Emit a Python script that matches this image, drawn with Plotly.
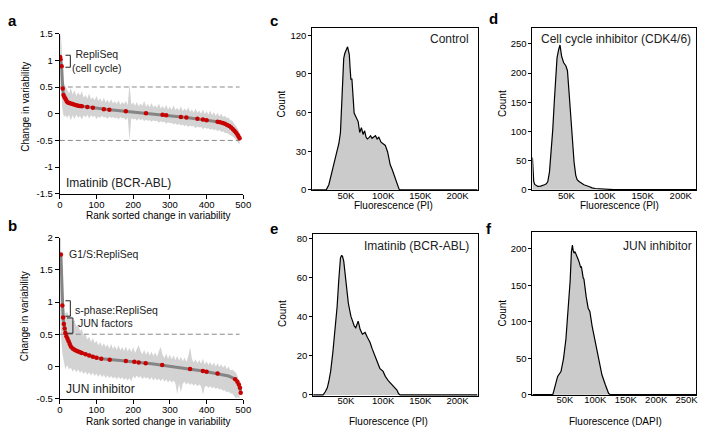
import plotly.graph_objects as go

# ---------------- DATA ----------------
# Panel a: Imatinib (BCR-ABL) rank-sorted change in variability
mean_a_rank = [1, 2, 5, 8, 10, 13, 16, 19, 22, 26, 30, 35, 40, 45, 50, 55, 60,
               75, 90, 105, 120, 135, 150, 165, 180, 195, 205,
               220, 235, 250, 265, 280, 290, 300,
               315, 330, 345, 360, 375, 390, 400,
               410, 420, 430, 437, 444, 450, 456,
               462, 467, 472, 476, 480, 484, 487, 490]
mean_a_val = [1.06, 1.02, 0.89, 0.47, 0.35, 0.31, 0.27, 0.23, 0.21, 0.20, 0.19, 0.18, 0.17, 0.16, 0.15, 0.145, 0.14,
              0.125, 0.11, 0.095, 0.085, 0.075, 0.065, 0.055, 0.045, 0.035, 0.03,
              0.02, 0.01, 0.005, -0.005, -0.02, -0.03, -0.04,
              -0.05, -0.06, -0.07, -0.085, -0.095, -0.11, -0.12,
              -0.13, -0.14, -0.15, -0.16, -0.175, -0.19, -0.21,
              -0.23, -0.26, -0.29, -0.32, -0.35, -0.39, -0.42, -0.46]
red_a = [1, 1, 1, 1, 1, 1, 1, 1, 1, 1, 1, 1, 1, 1, 1, 1, 1,
         1, 1, 0, 1, 1, 0, 0, 1, 0, 0,
         0, 1, 0, 0, 1, 1, 0,
         0, 1, 1, 0, 1, 1, 1,
         0, 0, 1, 1, 1, 1, 1,
         1, 1, 1, 1, 1, 1, 1, 1]

band_rank = [1, 3, 5, 7, 9, 11, 13, 15] + list(range(20, 491, 5))
hi_a = [1.50, 1.45, 1.25, 0.75, 0.62, 0.58, 0.55, 0.52,
        0.45, 0.38, 0.48, 0.36, 0.44, 0.33, 0.40, 0.34, 0.42, 0.30,
        0.35, 0.28, 0.38, 0.27, 0.31, 0.25, 0.33, 0.24, 0.29, 0.22,
        0.30, 0.21, 0.26, 0.20, 0.27, 0.19, 0.24, 0.18, 0.25, 0.17,
        0.22, 0.18, 0.24, 0.16, 0.55, 0.17, 0.21, 0.15, 0.22, 0.14,
        0.19, 0.15, 0.24, 0.13, 0.18, 0.12, 0.20, 0.12, 0.16, 0.11,
        0.19, 0.10, 0.15, 0.09, 0.17, 0.08, 0.13, 0.07, 0.16, 0.07,
        0.11, 0.06, 0.14, 0.05, 0.10, 0.05, 0.12, 0.03, 0.08, 0.02,
        0.10, 0.02, 0.06, 0.00, 0.08, -0.01, 0.05, -0.02, 0.06, -0.03,
        0.03, -0.04, 0.02, -0.05, 0.00, -0.06, -0.04, -0.08, -0.07, -0.12,
        -0.13, -0.18, -0.22, -0.28, -0.36]
lo_a = [0.55, 0.50, 0.35, 0.10, 0.00, -0.05, -0.05, -0.03,
        -0.08, -0.02, -0.12, -0.03, -0.10, -0.02, -0.08, -0.04, -0.11, -0.03,
        -0.07, -0.02, -0.09, -0.03, -0.06, -0.04, -0.10, -0.05, -0.08, -0.04,
        -0.07, -0.06, -0.10, -0.05, -0.08, -0.06, -0.09, -0.07, -0.11, -0.06,
        -0.09, -0.08, -0.12, -0.07, -0.49, -0.08, -0.11, -0.09, -0.13, -0.09,
        -0.12, -0.10, -0.14, -0.11, -0.13, -0.12, -0.15, -0.12, -0.14, -0.13,
        -0.17, -0.14, -0.16, -0.15, -0.19, -0.16, -0.18, -0.17, -0.20, -0.18,
        -0.21, -0.19, -0.22, -0.20, -0.23, -0.21, -0.25, -0.22, -0.24, -0.23,
        -0.27, -0.24, -0.26, -0.25, -0.29, -0.26, -0.28, -0.27, -0.30, -0.28,
        -0.31, -0.29, -0.33, -0.30, -0.34, -0.33, -0.36, -0.36, -0.38, -0.40,
        -0.42, -0.45, -0.48, -0.53, -0.58]

# Panel b: JUN inhibitor
mean_b_rank = [3, 7, 9, 11, 13, 15, 18, 21, 24, 27,
               30, 35, 40, 45, 50, 55, 60, 70, 80, 90,
               100, 113, 125, 136, 150, 165, 180, 192, 203, 215,
               234, 250, 265, 279, 295, 310, 325, 340, 355, 370,
               380, 390, 400, 415, 430, 440, 450, 460, 470, 478,
               484, 488, 491, 493]
mean_b_val = [1.74, 0.945, 0.76, 0.66, 0.59, 0.52, 0.47, 0.43, 0.39, 0.35,
              0.31, 0.28, 0.26, 0.245, 0.23, 0.22, 0.21, 0.19, 0.17, 0.15,
              0.135, 0.12, 0.11, 0.105, 0.098, 0.09, 0.083, 0.078, 0.073, 0.062,
              0.05, 0.04, 0.03, 0.02, 0.008, -0.003, -0.015, -0.028, -0.042, -0.055,
              -0.063, -0.072, -0.082, -0.095, -0.11, -0.12, -0.135, -0.15, -0.175, -0.2,
              -0.24, -0.28, -0.33, -0.41]
red_b = [1, 1, 1, 1, 1, 1, 1, 1, 1, 1,
         1, 1, 1, 1, 1, 1, 1, 1, 1, 1,
         1, 1, 0, 1, 0, 0, 1, 0, 1, 1,
         1, 0, 0, 1, 0, 0, 0, 0, 1, 0,
         0, 1, 1, 0, 1, 0, 0, 0, 0, 1,
         1, 1, 1, 1]
hi_b = [2.00, 2.00, 1.35, 1.05, 0.98, 0.92, 0.88, 0.82,
        0.85, 0.78, 0.80, 0.70, 0.72, 0.62, 0.65, 0.55, 0.58, 0.48,
        0.50, 0.42, 0.46, 0.38, 0.44, 0.36, 0.40, 0.33, 0.38, 0.31,
        0.36, 0.30, 0.34, 0.28, 0.35, 0.27, 0.32, 0.26, 0.33, 0.25,
        0.30, 0.24, 0.31, 0.23, 0.29, 0.22, 0.30, 0.21, 0.27, 0.33,
        0.24, 0.19, 0.26, 0.18, 0.24, 0.17, 0.23, 0.16, 0.22, 0.15,
        0.24, 0.30, 0.18, 0.13, 0.20, 0.12, 0.18, 0.11, 0.17, 0.10,
        0.16, 0.09, 0.15, 0.08, 0.14, 0.07, 0.15, 0.30, 0.12, 0.06,
        0.11, 0.05, 0.10, 0.04, 0.12, 0.03, 0.08, 0.02, 0.07, 0.01,
        0.06, 0.00, 0.05, -0.01, 0.03, -0.02, 0.02, -0.04, 0.00, -0.06,
        -0.05, -0.08, -0.10, -0.16, -0.25]
lo_b = [0.70, 0.60, 0.35, 0.20, 0.10, 0.05, 0.00, -0.05,
        0.02, -0.05, -0.02, -0.08, -0.04, -0.09, -0.05, -0.10, -0.07, -0.12,
        -0.08, -0.13, -0.09, -0.14, -0.10, -0.15, -0.11, -0.16, -0.12, -0.17,
        -0.13, -0.18, -0.14, -0.18, -0.15, -0.19, -0.16, -0.20, -0.16, -0.20,
        -0.17, -0.21, -0.18, -0.22, -0.18, -0.23,
        -0.15, -0.19, -0.14, -0.18, -0.15, -0.20, -0.16, -0.19, -0.17, -0.21,
        -0.17, -0.22, -0.18, -0.22, -0.19, -0.23, -0.19, -0.24, -0.20, -0.25,
        -0.21, -0.25, -0.22, -0.26, -0.43, -0.27, -0.40, -0.27, -0.24, -0.28,
        -0.25, -0.29, -0.26, -0.30, -0.27, -0.31, -0.28, -0.31, -0.44, -0.32,
        -0.30, -0.33, -0.31, -0.34, -0.32, -0.35, -0.33, -0.36, -0.35, -0.38,
        -0.37, -0.40, -0.39, -0.42, -0.42, -0.45, -0.50, -0.48, -0.50]

assert len(mean_a_rank) == len(mean_a_val) == len(red_a)
assert len(mean_b_rank) == len(mean_b_val) == len(red_b)
assert len(band_rank) == len(hi_a) == len(lo_a) == len(hi_b) == len(lo_b)

thresh_a = [0.5, -0.5]
thresh_b = [0.5]

# Histograms (fluorescence in thousands, counts)
c_x = [4.6, 20, 23.5, 27, 30, 32.4, 35, 38.1, 40.5, 42.6, 44, 45.6, 47, 48.5, 50, 51, 52.2, 53.3, 54.5,
       55.5, 56.6, 58, 59, 61, 63.2, 65, 66.4, 68.5, 70.8, 73, 75.1, 77, 78.7, 81, 83.1, 85, 86.6, 88,
       89.7, 91.9, 94.2, 97.2, 100, 102.9, 106, 108, 109.5, 112, 114, 117.5, 121.4, 123, 226.9]
c_y = [0, 0, 0, 4, 10, 16.8, 23, 29.4, 36, 44.5, 60, 79.8, 102, 106, 108.7, 109, 111, 108, 105,
       95, 86, 86, 75, 59.6, 57, 55, 53, 44.5, 48.3, 43, 45.8, 41, 39.5, 40.5, 42, 40, 40.8, 41.5,
       42, 39.5, 40.8, 37, 36, 34.5, 29.4, 24, 19.4, 16, 13, 6.8, 0.5, 0, 0]

d_x = [5.3, 6.1, 7, 8.3, 10, 12.5, 16, 19, 21.2, 23.5, 25.5, 27.7, 29.9, 32, 34.1, 36.3, 37.6, 39.7,
       41.5, 43.6, 46.2, 49.3, 51.3, 53.5, 55.7, 57.8, 60, 62.2, 64, 66.5, 72.9, 79.4, 83.7, 88,
       96.6, 105, 112, 220.3]
d_y = [55, 25, 14, 9, 7, 5.5, 6, 7, 8.3, 10, 13.9, 30.6, 64, 103, 153, 204, 226, 240,
       248, 229, 218, 212, 204, 165, 120, 81, 47, 24.6, 17, 13.9, 8.3, 5.5, 3, 2,
       1, 0.3, 0, 0]

e_x = [5.9, 17, 19.2, 22, 24.9, 27, 29.4, 32.4, 35.5, 38.1, 40.3, 42.6, 44.3, 45.5, 47, 50, 53.2,
       56.6, 59, 61.1, 63.2, 65, 66.4, 67.5, 69, 72.1, 74, 75.7, 78.7, 82.3, 85.3, 88.4, 92, 95.5,
       99.9, 102.9, 107.4, 111.8, 116.1, 118.5, 120.6, 122.8, 226.9]
e_y = [0, 0, 0, 1.5, 3.6, 7, 12, 21.9, 33.5, 45, 58.4, 70, 71.3, 70.5, 68.3, 58.4, 46.8,
       40.2, 37, 35.2, 34.3, 36, 37.7, 36, 33.5, 31, 31.5, 31.9, 29.4, 26.9, 23.5, 20.3, 16.9, 13.6,
       12, 9.5, 7, 5.3, 3.6, 2.5, 0.7, 0, 0]

f_x = [-3.4, 28, 30, 32, 34.3, 38, 43.5, 47.7, 51.6, 55.3, 58.6, 60.7, 62.3, 63.5, 65, 66.5, 68.8,
       70.5, 72, 74, 75.9, 77, 78.5, 80, 81.2, 83, 85, 88.2, 91, 94.7, 99, 102.8, 106.6, 110.8,
       116.3, 121.7, 124.4, 265.7]
f_y = [0, 0, 0, 6, 13.9, 25, 31.7, 49.4, 76, 112, 156, 196, 205, 198, 194, 196, 192,
       188, 185, 180, 174, 176, 163, 160, 158.6, 145, 134, 118.5, 114, 94, 76, 58.4, 40.6, 27.3,
       13.9, 1.9, 0, 0]

rank_ticks = [0, 100, 200, 300, 400, 500]
ya_ticks = [-1.5, -1, -0.5, 0, 0.5, 1, 1.5]
yb_ticks = [-0.5, 0, 0.5, 1, 1.5, 2]
fl_ticks = [50, 100, 150, 200]
fl_ticks_f = [50, 100, 150, 200, 250]

# ---------------- FIGURE ----------------
W, H = 715, 437
FONT = "Liberation Sans, Arial, Helvetica, sans-serif"
BAND = "#d3d3d3"
MEANC = "#858585"
RED = "#c80000"
FILLG = "#cbcbcb"


def px(x, y):
    return x / W, 1 - y / H


def tlab(v):
    return "%g" % v


fig = go.Figure()


def rank_panel(xa, ya, mrank, mval, red, hi, lo, thr):
    fig.add_trace(go.Scatter(x=band_rank + band_rank[::-1], y=hi + lo[::-1], fill="toself",
                             fillcolor=BAND, line=dict(width=0), mode="lines",
                             xaxis=xa, yaxis=ya, hoverinfo="skip"))
    for t in thr:
        fig.add_trace(go.Scatter(x=[0, 490], y=[t, t], mode="lines",
                                 line=dict(color="#8a8a8a", width=1, dash="5px,3px"),
                                 xaxis=xa, yaxis=ya))
    fig.add_trace(go.Scatter(x=mrank, y=mval, mode="lines", line=dict(color=MEANC, width=3),
                             xaxis=xa, yaxis=ya))
    rx = [r for r, f in zip(mrank, red) if f]
    ry = [v for v, f in zip(mval, red) if f]
    fig.add_trace(go.Scatter(x=rx, y=ry, mode="markers",
                             marker=dict(color=RED, size=4.5, line=dict(width=0)),
                             xaxis=xa, yaxis=ya))


def hist_panel(xa, ya, hx, hy):
    fig.add_trace(go.Scatter(x=hx, y=hy, mode="lines", fill="tozeroy", fillcolor=FILLG,
                             line=dict(color="black", width=1.2), xaxis=xa, yaxis=ya))


rank_panel("x", "y", mean_a_rank, mean_a_val, red_a, hi_a, lo_a, thresh_a)
rank_panel("x2", "y2", mean_b_rank, mean_b_val, red_b, hi_b, lo_b, thresh_b)
hist_panel("x3", "y3", c_x, c_y)
hist_panel("x4", "y4", d_x, d_y)
hist_panel("x5", "y5", e_x, e_y)
hist_panel("x6", "y6", f_x, f_y)

tickfont = dict(family=FONT, size=9.5, color="black")

rank_x = dict(range=[0, 500], tickvals=rank_ticks, ticktext=[str(v) for v in rank_ticks],
              showline=True, linecolor="black", linewidth=1, ticks="outside", ticklen=4,
              tickcolor="black", showgrid=False, zeroline=False, tickfont=tickfont,
              ticklabelstandoff=-2)
rank_y = dict(showline=True, linecolor="black", linewidth=1, ticks="outside", ticklen=4,
              tickcolor="black", showgrid=False, zeroline=False, tickfont=tickfont)
hist_x = dict(showline=True, mirror=True, linecolor="black", linewidth=1, ticks="",
              ticklabelstandoff=-4,
              showgrid=False, zeroline=False, tickfont=tickfont)
hist_y = dict(showline=True, mirror=True, linecolor="black", linewidth=1, ticks="outside",
              ticklen=3, tickcolor="black", showgrid=False, zeroline=False, tickfont=tickfont)


def dom_x(x0, x1):
    return [x0 / W, x1 / W]


def dom_y(ytop, ybot):
    return [1 - ybot / H, 1 - ytop / H]


layout = dict(
    width=W, height=H, margin=dict(l=0, r=0, t=0, b=0),
    paper_bgcolor="white", plot_bgcolor="white", showlegend=False,
    font=dict(family=FONT, color="black"),
    xaxis=dict(rank_x, domain=dom_x(57.7, 244), anchor="y"),
    yaxis=dict(rank_y, domain=dom_y(28.3, 192.7), anchor="x", range=[-1.5, 1.5],
               tickvals=ya_ticks, ticktext=[tlab(v) for v in ya_ticks]),
    xaxis2=dict(rank_x, domain=dom_x(57.7, 244), anchor="y2"),
    yaxis2=dict(rank_y, domain=dom_y(237.7, 402.7), anchor="x2", range=[-0.5, 2],
                tickvals=yb_ticks, ticktext=[tlab(v) for v in yb_ticks]),
    xaxis3=dict(hist_x, domain=dom_x(314, 482), anchor="y3", range=[4.6, 226.9],
                tickvals=fl_ticks, ticktext=["%dK" % v for v in fl_ticks]),
    yaxis3=dict(hist_y, domain=dom_y(22.7, 189), anchor="x3", range=[-0.3, 125.5],
                tickvals=[0, 30, 60, 90, 120]),
    xaxis4=dict(hist_x, domain=dom_x(537.7, 704), anchor="y4", range=[5.3, 220.3],
                tickvals=fl_ticks, ticktext=["%dK" % v for v in fl_ticks]),
    yaxis4=dict(hist_y, domain=dom_y(22.7, 189), anchor="x4", range=[-1, 277],
                tickvals=[0, 50, 100, 150, 200, 250]),
    xaxis5=dict(hist_x, domain=dom_x(315, 482), anchor="y5", range=[5.9, 226.9],
                tickvals=fl_ticks, ticktext=["%dK" % v for v in fl_ticks]),
    yaxis5=dict(hist_y, domain=dom_y(234, 400), anchor="x5", range=[-0.5, 82.1],
                tickvals=[0, 20, 40, 60, 80]),
    xaxis6=dict(hist_x, domain=dom_x(537.7, 704), anchor="y6", range=[-3.4, 265.7],
                tickvals=fl_ticks_f, ticktext=["%dK" % v for v in fl_ticks_f]),
    yaxis6=dict(hist_y, domain=dom_y(231.7, 399), anchor="x6", range=[-0.4, 223.1],
                tickvals=[0, 50, 100, 150, 200]),
)
fig.update_layout(**layout)

ann = []


def add_text(x, y, text, size=10, xanchor="center", angle=0, bold=False, color="black"):
    xx, yy = px(x, y)
    t = "<b>%s</b>" % text if bold else text
    ann.append(dict(x=xx, y=yy, xref="paper", yref="paper", text=t, showarrow=False,
                    xanchor=xanchor, yanchor="middle", textangle=angle,
                    font=dict(family=FONT, size=size, color=color)))


# panel letters
for L, x, y in [("a", 10, 15), ("b", 10, 225), ("c", 275, 15), ("d", 498, 13),
                ("e", 275, 228), ("f", 494, 228)]:
    add_text(x, y, L, size=15, bold=True)

# axis titles
add_text(158, 215, "Rank sorted change in variability")
add_text(158, 426, "Rank sorted change in variability")
add_text(22.7, 103, "Change in variability", angle=-90)
add_text(22.7, 318, "Change in variability", angle=-90)
add_text(397, 204.5, "Fluorescence (PI)")
add_text(626, 204.5, "Fluorescence (PI)")
add_text(392, 426.5, "Fluorescence (PI)")
add_text(622.5, 426.5, "Fluorescence (DAPI)")
for x, y in [(283.3, 100), (507.3, 100), (283.3, 315), (507.3, 315)]:
    add_text(x, y, "Count", angle=-90)

# in-panel labels
add_text(61.7, 182, "Imatinib (BCR-ABL)", size=12, xanchor="left", color="#222")
add_text(61.7, 393, "JUN inhibitor", size=12, xanchor="left", color="#222")
add_text(475, 34, "Control", size=12, xanchor="right", color="#222")
add_text(701, 34.3, "Cell cycle inhibitor (CDK4/6)", size=12, xanchor="right", color="#222")
add_text(475, 246.7, "Imatinib (BCR-ABL)", size=12, xanchor="right", color="#222")
add_text(701.7, 246.7, "JUN inhibitor", size=12, xanchor="right", color="#222")


def add_data_text(xa, ya, x, y, text, xanchor="left"):
    ann.append(dict(x=x, y=y, xref=xa, yref=ya, text=text, showarrow=False,
                    xanchor=xanchor, yanchor="middle", align="center",
                    font=dict(family=FONT, size=10.5, color="#222")))


add_data_text("x", "y", 100, 0.985, "RepliSeq<br>(cell cycle)", xanchor="center")
add_data_text("x2", "y2", 19, 1.74, "G1/S:RepliSeq")
add_data_text("x2", "y2", 37, 0.87, "s-phase:RepliSeq")
add_data_text("x2", "y2", 43, 0.667, "JUN factors")
fig.update_layout(annotations=ann)


def bracket(xa, ya, x0, x1, y0, y1):
    fig.add_shape(type="path", xref=xa, yref=ya,
                  path="M %g,%g L %g,%g L %g,%g L %g,%g" % (x0, y0, x1, y0, x1, y1, x0, y1),
                  line=dict(color="#222", width=1))


bracket("x", "y", 15.3, 28.7, 1.095, 0.87)
bracket("x2", "y2", 15.3, 28.7, 1.02, 0.78)
bracket("x2", "y2", 19.6, 35.7, 0.753, 0.515)

fig.write_html("out.html", config={"displayModeBar": False},
               post_script="document.body.style.margin='0px';")
